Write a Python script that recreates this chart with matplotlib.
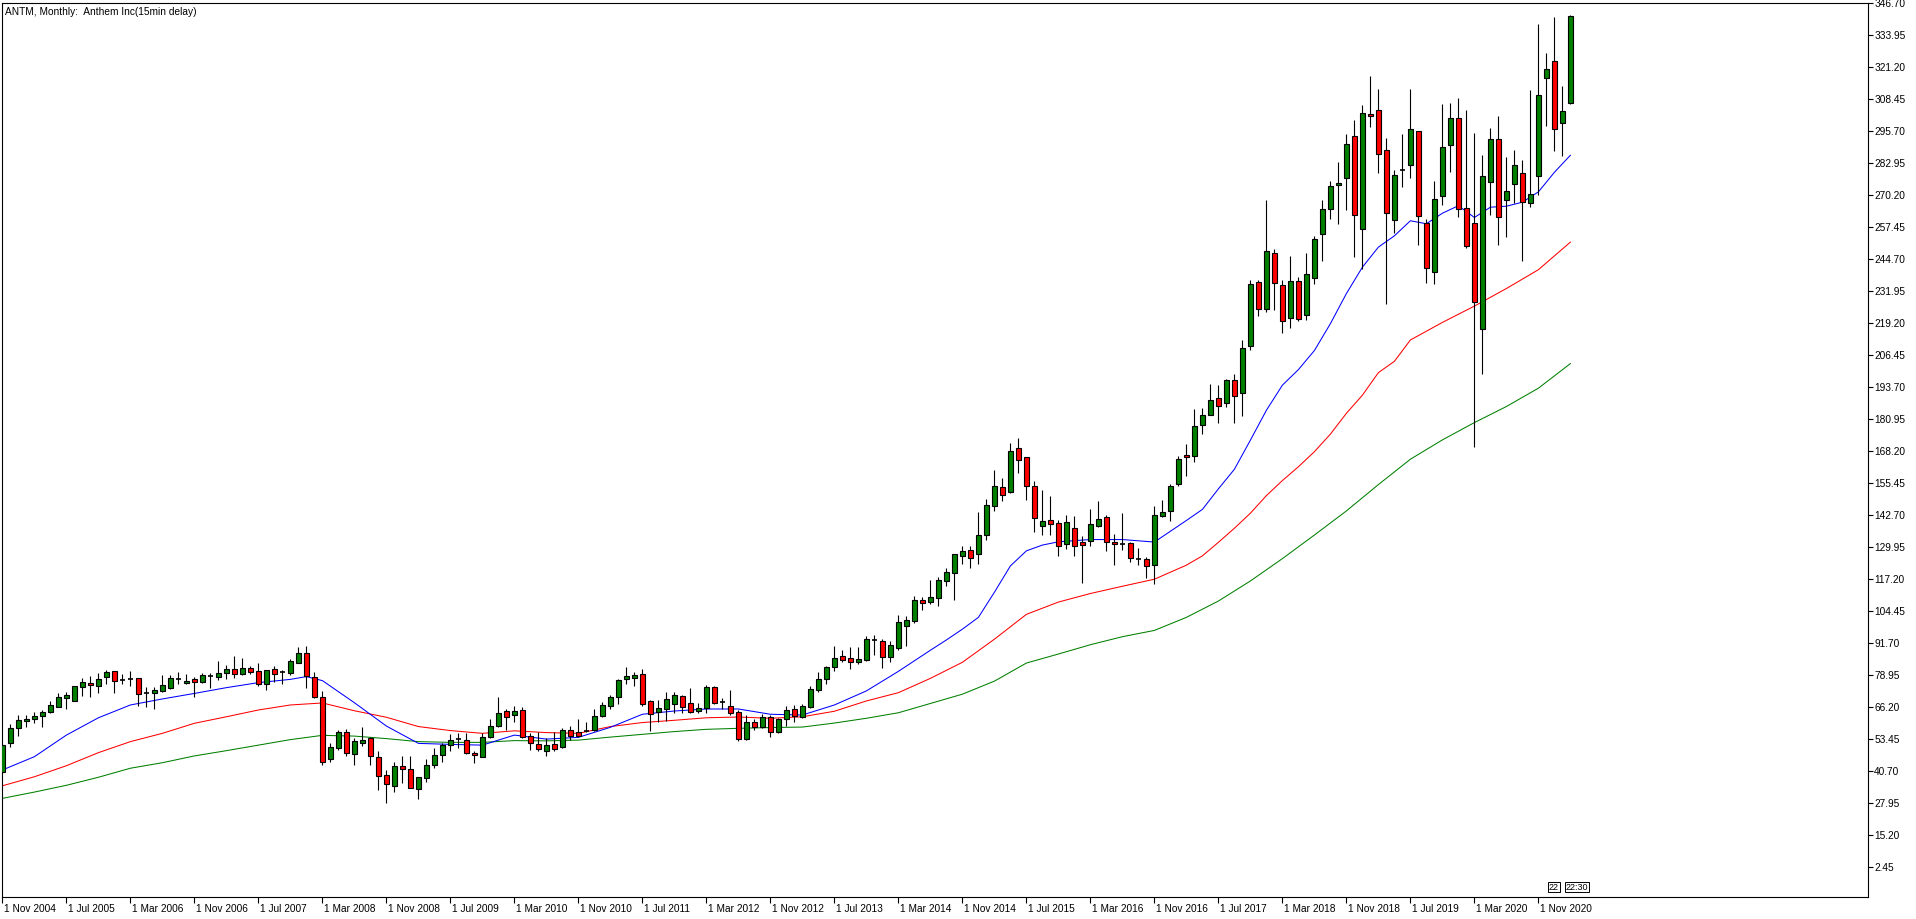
import matplotlib
matplotlib.use("Agg")
import matplotlib.pyplot as plt
import matplotlib.transforms as mtransforms

# monthly bars, index 0 = Nov 2004
opens = [40.5, 52.1, 57.8, 60.8, 61.6, 62.7, 64.3, 66.4, 70.0, 68.8,
         74.1, 75.9, 74.8, 78.1, 80.6, 77.2, 77.6, 77.7, 72.0, 72.0,
         72.8, 74.0, 77.6, 75.7, 77.3, 76.4, 78.7, 78.4, 79.7, 81.4,
         79.3, 81.8, 80.6, 75.4, 81.4, 80.1, 79.7, 83.7, 88.0, 78.4,
         70.1, 45.4, 49.8, 56.2, 47.4, 52.1, 53.8, 46.4, 39.2, 35.0,
         42.8, 41.6, 33.8, 37.9, 43.0, 47.2, 51.1, 53.4, 53.1, 48.1,
         46.5, 54.5, 58.6, 64.7, 63.1, 65.1, 54.9, 51.5, 48.9, 51.5,
         50.5, 57.1, 56.2, 56.7, 57.1, 62.8, 66.8, 70.4, 77.3, 78.0,
         79.3, 68.7, 64.4, 65.5, 67.3, 70.6, 67.7, 64.8, 66.0, 74.1,
         68.1, 66.8, 64.4, 53.5, 60.2, 58.2, 62.2, 56.2, 61.4, 65.4,
         62.4, 66.4, 73.0, 77.3, 82.3, 86.5, 86.0, 84.1, 85.2, 93.0,
         92.5, 86.3, 89.6, 98.7, 100.6, 108.9, 108.2, 109.9, 116.6, 119.5,
         126.5, 128.8, 127.1, 135.0, 146.4, 154.1, 152.0, 169.3, 165.7, 154.5,
         138.5, 140.6, 139.4, 131.4, 137.8, 131.9, 132.4, 138.5, 141.8, 132.2,
         131.4, 131.8, 125.3, 125.1, 122.8, 142.5, 144.4, 155.3, 166.6, 166.3,
         178.8, 182.8, 189.2, 187.2, 196.5, 191.2, 210.1, 235.6, 224.9, 247.2,
         234.6, 221.4, 236.0, 222.6, 237.0, 254.9, 264.8, 274.4, 277.2, 293.9,
         256.9, 302.4, 304.2, 288.3, 260.4, 280.2, 282.3, 295.9, 259.3, 239.6,
         269.9, 290.3, 301.1, 265.2, 259.3, 217.0, 275.4, 292.7, 268.4, 274.8,
         279.2, 267.2, 277.8, 316.8, 323.5, 299.1, 306.9]
highs = [51.6, 59.5, 63.1, 63.1, 64.3, 65.1, 68.7, 71.7, 72.4, 74.6,
         77.9, 78.6, 79.9, 81.0, 80.6, 79.4, 80.6, 77.7, 74.4, 74.4,
         79.0, 79.0, 80.2, 79.4, 78.3, 79.7, 79.7, 84.6, 83.0, 86.6,
         85.7, 82.6, 83.9, 81.0, 82.6, 81.0, 85.3, 90.3, 90.6, 80.1,
         72.6, 51.8, 57.1, 57.4, 53.8, 58.5, 54.5, 48.8, 41.2, 44.5,
         46.8, 46.8, 38.3, 45.4, 49.8, 52.1, 55.5, 56.1, 55.8, 48.9,
         55.8, 61.5, 70.4, 65.5, 66.8, 66.4, 55.8, 56.5, 54.1, 56.2,
         57.8, 58.7, 61.5, 60.2, 65.5, 68.4, 71.1, 77.4, 82.3, 80.1,
         81.4, 69.1, 69.1, 72.2, 72.1, 71.1, 74.0, 67.7, 74.9, 74.6,
         69.7, 73.0, 65.1, 63.1, 61.4, 63.5, 63.1, 61.8, 66.8, 67.1,
         67.5, 74.6, 80.1, 82.6, 90.6, 89.0, 90.0, 90.0, 94.5, 94.9,
         93.3, 92.5, 102.9, 102.5, 110.5, 110.2, 116.8, 118.2, 121.5, 127.2,
         130.4, 130.4, 143.8, 149.1, 160.9, 157.7, 171.3, 173.6, 165.9, 156.3,
         152.7, 150.3, 140.7, 142.7, 142.3, 134.4, 145.1, 148.3, 142.7, 135.1,
         143.4, 132.1, 129.8, 125.9, 146.3, 148.7, 155.3, 166.2, 171.0, 184.9,
         185.5, 195.1, 194.5, 196.9, 199.1, 212.4, 236.3, 236.5, 268.1, 248.9,
         236.5, 245.8, 237.6, 247.2, 253.8, 268.1, 275.7, 283.4, 294.4, 300.3,
         306.0, 317.5, 312.3, 293.1, 280.3, 294.4, 312.3, 295.9, 260.8, 275.7,
         306.4, 306.8, 309.1, 304.0, 295.1, 286.1, 297.0, 301.6, 285.4, 288.0,
         284.1, 312.0, 338.2, 326.9, 341.0, 313.5, 342.1]
lows = [40.0, 50.5, 54.9, 58.5, 59.8, 58.5, 64.0, 66.1, 65.3, 68.8,
        70.5, 70.4, 72.0, 75.3, 71.7, 75.4, 74.8, 66.7, 66.4, 65.5,
        72.4, 73.4, 75.4, 75.4, 70.4, 75.7, 73.7, 77.0, 77.4, 77.7,
        79.0, 79.4, 74.8, 73.0, 76.4, 75.3, 79.0, 83.7, 73.7, 69.7,
        43.2, 44.5, 49.2, 46.8, 43.2, 50.8, 43.2, 33.2, 27.9, 32.6,
        35.9, 34.2, 29.5, 36.3, 42.1, 44.5, 48.9, 50.1, 47.6, 44.1,
        46.5, 53.8, 58.4, 57.1, 60.4, 53.8, 49.2, 48.8, 46.8, 48.9,
        50.1, 53.1, 54.5, 56.2, 56.7, 62.4, 65.5, 67.5, 75.4, 74.6,
        66.8, 56.7, 60.4, 60.8, 64.1, 64.0, 63.8, 63.8, 63.8, 67.5,
        65.3, 63.1, 52.9, 53.1, 57.1, 57.8, 54.2, 55.8, 58.8, 60.4,
        61.8, 66.0, 72.4, 75.4, 80.6, 84.3, 81.4, 83.3, 84.7, 87.0,
        81.9, 84.3, 89.0, 90.7, 99.8, 104.9, 107.3, 106.6, 114.6, 109.1,
        123.2, 121.5, 123.1, 133.0, 144.4, 148.4, 151.6, 159.6, 148.9, 136.1,
        134.8, 135.0, 126.5, 129.3, 126.5, 115.8, 130.5, 138.1, 128.5, 122.8,
        128.8, 124.1, 122.8, 117.8, 115.1, 142.0, 140.5, 154.4, 158.2, 164.0,
        175.2, 182.5, 179.5, 185.9, 179.5, 182.3, 208.7, 222.1, 223.7, 224.3,
        215.4, 217.4, 219.9, 220.6, 235.0, 244.0, 260.8, 258.9, 264.4, 245.6,
        240.9, 297.3, 279.0, 227.0, 255.1, 273.4, 277.0, 250.2, 235.2, 234.7,
        266.1, 279.4, 261.5, 249.2, 170.0, 199.1, 262.2, 250.2, 253.5, 267.2,
        244.0, 265.5, 270.1, 297.7, 287.8, 285.8, 306.4]
closes = [51.1, 57.8, 61.1, 61.5, 62.9, 64.2, 67.1, 70.1, 71.1, 74.6,
          76.2, 74.9, 77.4, 80.2, 76.8, 77.2, 77.6, 71.3, 72.0, 73.0,
          75.0, 77.7, 77.6, 76.6, 76.1, 79.0, 78.7, 79.9, 81.4, 79.3,
          81.8, 80.1, 75.4, 81.0, 79.3, 80.1, 84.6, 88.0, 78.6, 70.1,
          44.5, 50.2, 56.2, 47.8, 52.7, 53.1, 46.9, 38.9, 35.8, 42.8,
          41.7, 34.2, 38.3, 43.2, 47.2, 51.1, 53.1, 53.4, 47.8, 47.0,
          54.2, 58.7, 64.0, 62.2, 64.7, 54.2, 51.8, 49.4, 51.1, 49.7,
          57.1, 54.7, 54.9, 56.7, 62.7, 67.1, 70.4, 77.0, 78.6, 79.0,
          67.5, 63.7, 65.7, 69.3, 71.0, 66.4, 64.4, 65.7, 74.1, 68.0,
          68.1, 64.1, 53.5, 60.2, 58.2, 62.2, 56.2, 61.5, 64.9, 62.7,
          66.7, 73.4, 77.4, 82.1, 85.7, 85.2, 84.1, 85.4, 93.2, 93.0,
          86.3, 91.0, 100.1, 100.9, 108.9, 107.8, 110.2, 116.8, 119.9, 127.1,
          128.4, 125.7, 135.0, 146.6, 154.5, 150.9, 168.2, 164.5, 154.4, 141.4,
          140.3, 139.3, 130.5, 139.8, 130.5, 131.0, 139.0, 141.1, 132.2, 131.4,
          131.4, 125.5, 125.3, 122.4, 142.7, 143.8, 154.3, 164.9, 165.7, 178.2,
          182.5, 188.5, 186.2, 196.5, 190.1, 209.5, 235.0, 225.0, 248.0, 235.4,
          219.9, 236.0, 221.0, 238.9, 252.9, 264.8, 274.0, 275.2, 290.7, 262.4,
          303.0, 301.6, 286.7, 263.2, 278.4, 280.2, 296.7, 261.9, 241.0, 268.8,
          289.2, 301.1, 264.8, 250.0, 227.7, 277.7, 292.7, 261.5, 271.7, 282.1,
          267.5, 270.8, 310.2, 320.6, 296.7, 303.8, 341.4]

# moving averages (blue / red / green)
ma_fast_idx = [0, 4, 8, 12, 16, 20, 24, 28, 32, 36, 38, 40, 44, 48, 52, 56, 60, 64, 68, 72,
               76, 80, 84, 88, 92, 96, 100, 104, 108, 112, 116, 118, 120, 122, 124, 126, 128,
               130, 132, 136, 140, 144, 148, 150, 152, 154, 156, 158, 160, 162, 164, 166, 168,
               170, 172, 174, 176, 178, 180, 182, 184, 186, 188, 190, 192, 194, 196]
ma_fast = [41.2, 46.5, 55.1, 62.0, 67.1, 69.5, 71.7, 74.0, 76.0, 77.3, 78.4, 76.8, 68.0, 58.7,
           51.8, 51.4, 51.1, 55.1, 53.5, 54.2, 58.2, 63.4, 64.7, 65.5, 65.5, 63.4, 63.1, 67.1,
           72.7, 80.5, 88.9, 93.0, 97.3, 102.0, 112.0, 122.5, 128.5, 130.8, 132.1, 133.0,
           133.0, 132.0, 140.6, 145.0, 153.2, 161.0, 172.6, 184.5, 194.5, 200.7, 208.3, 219.0,
           231.0, 241.5, 249.5, 254.0, 260.0, 258.8, 263.0, 266.0, 261.3, 265.4, 265.8, 267.4,
           271.5, 279.3, 286.1]
ma_mid_idx = [0, 4, 8, 12, 16, 20, 24, 28, 32, 36, 40, 44, 48, 52, 56, 60, 64, 68, 72, 76,
              80, 84, 88, 92, 96, 100, 104, 108, 112, 116, 120, 124, 128, 132, 136, 140, 144,
              148, 150, 152, 154, 156, 158, 160, 162, 164, 166, 168, 170, 172, 174, 176, 180,
              184, 188, 192, 196]
ma_mid = [34.9, 38.5, 42.9, 48.1, 52.5, 55.8, 59.8, 62.4, 65.1, 67.1,
          67.9, 64.8, 62.2, 58.5, 56.9, 55.8, 56.8, 56.1, 55.8, 58.5,
          60.1, 61.0, 62.0, 62.3, 61.8, 62.4, 64.6, 68.7, 72.0, 77.7,
          84.1, 93.3, 103.2, 108.1, 111.5, 114.4, 117.2, 122.8, 126.5, 131.9,
          137.5, 143.5, 150.5, 156.5, 162.0, 168.0, 175.0, 183.3, 190.5, 199.5,
          204.0, 212.5, 219.5, 226.0, 233.0, 240.5, 251.5]
ma_slow_idx = list(range(0, 197, 4))
ma_slow = [29.9, 32.4, 35.1, 38.3, 41.9, 44.1, 46.8, 48.9, 51.1, 53.3,
           55.0, 54.7, 53.7, 52.5, 52.2, 52.2, 52.9, 52.8, 53.1, 54.3,
           55.4, 56.5, 57.4, 57.8, 58.1, 58.3, 59.9, 61.8, 64.0, 67.7,
           71.4, 76.6, 83.8, 87.4, 91.1, 94.3, 96.8, 102.0, 108.5, 116.5,
           125.4, 134.8, 144.4, 154.9, 165.0, 172.7, 179.6, 186.0, 193.3, 203.1]

x_tick_pos = list(range(0, 193, 8))
x_tick_labels = ["1 Nov 2004", "1 Jul 2005", "1 Mar 2006", "1 Nov 2006", "1 Jul 2007",
                 "1 Mar 2008", "1 Nov 2008", "1 Jul 2009", "1 Mar 2010", "1 Nov 2010",
                 "1 Jul 2011", "1 Mar 2012", "1 Nov 2012", "1 Jul 2013", "1 Mar 2014",
                 "1 Nov 2014", "1 Jul 2015", "1 Mar 2016", "1 Nov 2016", "1 Jul 2017",
                 "1 Mar 2018", "1 Nov 2018", "1 Jul 2019", "1 Mar 2020", "1 Nov 2020"]
y_ticks = [2.45, 15.20, 27.95, 40.70, 53.45, 66.20, 78.95, 91.70, 104.45, 117.20,
           129.95, 142.70, 155.45, 168.20, 180.95, 193.70, 206.45, 219.20, 231.95,
           244.70, 257.45, 270.20, 282.95, 295.70, 308.45, 321.20, 333.95, 346.70]

plt.rcParams["font.family"] = ["Liberation Sans", "DejaVu Sans"]
FS = 7.3

fig = plt.figure(figsize=(19.16, 9.19), dpi=100)
ax = fig.add_axes([2 / 1916, 22 / 919, 1866 / 1916, 894 / 919])

xs = list(range(len(opens)))
ax.vlines(xs, lows, highs, color="black", lw=0.8, zorder=2)
for x, o, c in zip(xs, opens, closes):
    if abs(c - o) < 0.35:
        ax.hlines(o, x - 0.3, x + 0.3, color="black", lw=1.2, zorder=3)
        continue
    col = "#008000" if c > o else "#ff0000"
    ax.bar(x, abs(c - o), bottom=min(o, c), width=0.56, color=col,
           edgecolor="black", lw=0.8, zorder=3)

ax.plot(ma_slow_idx, ma_slow, color="#008000", lw=0.75, zorder=1)
ax.plot(ma_mid_idx, ma_mid, color="#ff0000", lw=0.75, zorder=1)
ax.plot(ma_fast_idx, ma_fast, color="#0000ff", lw=0.75, zorder=1)

ax.set_xlim(-0.05, 233.2)
ax.set_ylim(-9.4, 346.75)

ax.yaxis.tick_right()
ax.set_yticks(y_ticks)
ax.set_yticklabels([f"{v:.2f}" for v in y_ticks], fontsize=FS)
ax.tick_params(axis="y", direction="out", length=3.5, width=0.8, pad=1)

ax.set_xticks(x_tick_pos)
ax.set_xticklabels(x_tick_labels, fontsize=FS, ha="left")
ax.tick_params(axis="x", direction="out", length=4, width=0.8, pad=1)
off = mtransforms.ScaledTranslation(2 / 100, 0, fig.dpi_scale_trans)
for lab in ax.get_xticklabels():
    lab.set_transform(lab.get_transform() + off)

for sp in ax.spines.values():
    sp.set_linewidth(0.8)

ax.text(0.0015, 0.995, "ANTM, Monthly:  Anthem Inc(15min delay)", transform=ax.transAxes,
        fontsize=FS, va="top", ha="left")

# period separator labels at the bottom right
fig.text(1549 / 1916, 1 - 887 / 919, "22", fontsize=6.5, va="center", ha="left",
         bbox=dict(boxstyle="square,pad=0.1", fc="white", ec="black", lw=0.7))
fig.text(1566 / 1916, 1 - 887 / 919, "22:30", fontsize=6.5, va="center", ha="left",
         bbox=dict(boxstyle="square,pad=0.1", fc="white", ec="black", lw=0.7))

fig.savefig("out.png", dpi=100)
